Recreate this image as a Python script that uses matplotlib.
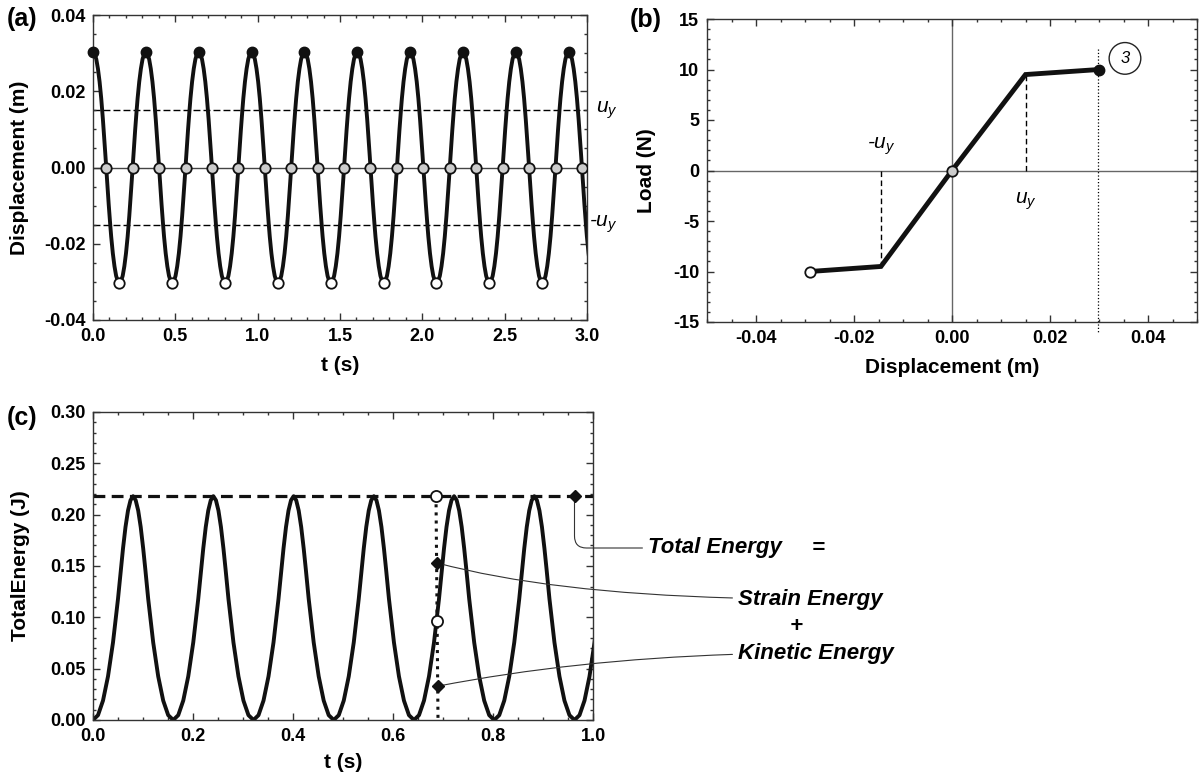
import numpy as np
import matplotlib
matplotlib.use('Agg')
import matplotlib.pyplot as plt
from matplotlib.ticker import MultipleLocator, FormatStrFormatter

# ---- data ----
# (a) displacement: one quarter cycle (peak -> zero crossing)
quarter_t = [0.0, 0.01, 0.02, 0.03, 0.04, 0.05, 0.0558, 0.06, 0.065, 0.07, 0.075, 0.0802]
quarter_disp = [0.0303, 0.0298, 0.0284, 0.0259, 0.0225, 0.0181, 0.0150, 0.0127, 0.0097, 0.0066, 0.0034, 0.0]
peak_t = [0.0, 0.321, 0.642, 0.963, 1.284, 1.605, 1.926, 2.247, 2.568, 2.889]
trough_t = [0.16, 0.481, 0.802, 1.123, 1.444, 1.765, 2.086, 2.407, 2.728]
zero_t = [0.08, 0.241, 0.401, 0.562, 0.722, 0.883, 1.043, 1.204, 1.364, 1.525,
          1.685, 1.846, 2.006, 2.167, 2.327, 2.488, 2.648, 2.809, 2.969]
peak_disp = 0.0303
trough_disp = -0.0303
u_y = 0.015

# (b) load - displacement backbone
load_disp = [-0.029, -0.0145, 0.0, 0.015, 0.030]
load_force = [-10.0, -9.5, 0.0, 9.5, 10.0]
uy_neg = -0.0145
uy_pos = 0.015
fy = 9.5
limit_disp = 0.0297

# (c) kinetic energy: one quarter cycle (zero -> peak)
quarter_ke = [0.0, 0.0047, 0.0189, 0.0425, 0.0755, 0.118, 0.147, 0.167, 0.188, 0.204, 0.214, 0.218]
ke_zero_t = [0.0, 0.1605, 0.321, 0.4815, 0.642, 0.8025, 0.963]
total_energy = 0.218
snap_line_t = [0.686, 0.690]
snap_line_e = [0.218, 0.0]
snap_circle_t = [0.686, 0.688]
snap_circle_e = [0.218, 0.096]
snap_diamond_t = [0.688, 0.690, 0.963]
snap_diamond_e = [0.153, 0.033, 0.218]

W, H = 1204, 777


def BuildCycle(qt, qv, flip):
    # mirror a quarter cycle into a half cycle
    half_t = list(qt) + [2 * qt[-1] - t for t in qt[-2::-1]]
    if flip:
        half_v = list(qv) + [-v for v in qv[-2::-1]]
    else:
        half_v = list(qv) + list(qv[-2::-1])
    return half_t, half_v


def StyleAxes(ax, xmaj, xmin, ymaj, ymin, xfmt, yfmt):
    ax.xaxis.set_major_locator(MultipleLocator(xmaj))
    ax.xaxis.set_minor_locator(MultipleLocator(xmin))
    ax.yaxis.set_major_locator(MultipleLocator(ymaj))
    ax.yaxis.set_minor_locator(MultipleLocator(ymin))
    ax.xaxis.set_major_formatter(FormatStrFormatter(xfmt))
    ax.yaxis.set_major_formatter(FormatStrFormatter(yfmt))
    ax.tick_params(which='both', direction='in', top=True, right=True,
                   color='#333333', width=1, labelsize=13, pad=5.5)
    ax.tick_params(which='major', length=5)
    ax.tick_params(which='minor', length=2.5)
    for s in ax.spines.values():
        s.set_color('#333333')
        s.set_linewidth(1)


def UyLabel(ax, x, y, neg, transform=None, ha='left'):
    # italic u with a small y subscript, not bold
    kw = dict(fontsize=15, fontweight='normal', fontstyle='italic', va='center', ha=ha)
    if transform is not None:
        kw['transform'] = transform
    txt = ('-' if neg else '') + 'u$_{\\mathit{y}}$'
    ax.text(x, y, txt, **kw)


plt.rcParams['font.family'] = ['Liberation Sans', 'DejaVu Sans']
plt.rcParams['font.weight'] = 'bold'
plt.rcParams['axes.labelweight'] = 'bold'
plt.rcParams['axes.unicode_minus'] = False
plt.rcParams['mathtext.fontset'] = 'custom'
plt.rcParams['mathtext.it'] = 'Liberation Sans:style=italic:weight=normal'
plt.rcParams['mathtext.rm'] = 'Liberation Sans:weight=normal'

fig = plt.figure(figsize=(W / 100, H / 100), dpi=100)
ax1 = fig.add_axes([93 / W, 1 - 320 / H, 494 / W, 305 / H])
ax2 = fig.add_axes([707 / W, 1 - 322 / H, 490 / W, 303 / H])
ax3 = fig.add_axes([93 / W, 1 - 720 / H, 500 / W, 308 / H])

# ---- (a) ----
half_t, half_u = BuildCycle(quarter_t, quarter_disp, True)
cycle_t = half_t + [half_t[-1] + t for t in half_t[1:]]
cycle_u = half_u + [-u for u in half_u[1:]]
t_a = np.concatenate([p + np.array(cycle_t) for p in peak_t])
u_a = np.concatenate([np.array(cycle_u) for p in peak_t])

ax1.axhline(0, color='#444444', lw=1, zorder=1)
ax1.axhline(u_y, color='k', lw=1, dashes=(5, 2.2), zorder=1)
ax1.axhline(-u_y, color='k', lw=1, dashes=(5, 2.2), zorder=1)
ax1.plot(t_a, u_a, color='#111111', lw=2.8, zorder=2)
ax1.plot(peak_t, [peak_disp] * len(peak_t), 'o', ms=7.5, mfc='#111111', mec='#111111', clip_on=False, zorder=3)
ax1.plot(trough_t, [trough_disp] * len(trough_t), 'o', ms=7.5, mfc='white', mec='#111111', mew=1.3, zorder=3)
ax1.plot(zero_t, [0] * len(zero_t), 'o', ms=7.5, mfc='#cccccc', mec='#111111', mew=1.3, zorder=3)
ax1.set_xlim(0, 3.0)
ax1.set_ylim(-0.04, 0.04)
StyleAxes(ax1, 0.5, 0.1, 0.02, 0.005, '%.1f', '%.2f')
ax1.set_xlabel('t (s)', fontsize=15, labelpad=8)
ax1.set_ylabel('Displacement (m)', fontsize=15, labelpad=11)
UyLabel(ax1, 1.018, u_y, False, transform=ax1.get_yaxis_transform())
UyLabel(ax1, 1.004, -u_y, True, transform=ax1.get_yaxis_transform())

# ---- (b) ----
ax2.axhline(0, color='#666666', lw=1, zorder=1)
ax2.axvline(0, color='#666666', lw=1, zorder=1)
ax2.plot([uy_neg, uy_neg], [0, -fy], color='k', lw=1, dashes=(4, 2.5), zorder=1)
ax2.plot([uy_pos, uy_pos], [0, fy], color='k', lw=1, dashes=(4, 2.5), zorder=1)
ax2.plot([limit_disp, limit_disp], [12.0, -16.0], color='k', lw=0.9, ls=':', clip_on=False, zorder=1)
ax2.plot(load_disp, load_force, color='#111111', lw=3.5, zorder=2, solid_joinstyle='miter')
ax2.plot(load_disp[0], load_force[0], 'o', ms=7.5, mfc='white', mec='#111111', mew=1.3, zorder=3)
ax2.plot(load_disp[2], load_force[2], 'o', ms=7.5, mfc='#cccccc', mec='#111111', mew=1.3, zorder=3)
ax2.plot(load_disp[-1], load_force[-1], 'o', ms=7.5, mfc='#111111', mec='#111111', zorder=3)
ax2.set_xlim(-0.05, 0.05)
ax2.set_ylim(-15, 15)
StyleAxes(ax2, 0.02, 0.005, 5, 1, '%.2f', '%d')
ax2.set_xlabel('Displacement (m)', fontsize=15, labelpad=8)
ax2.set_ylabel('Load (N)', fontsize=15, labelpad=12)
UyLabel(ax2, uy_neg, 2.4, True, ha='center')
UyLabel(ax2, uy_pos, -3.0, False, ha='center')
ax2.text(0.0353, 11.1, '3', fontsize=12, fontweight='normal', fontstyle='italic', ha='center', va='center',
         bbox=dict(boxstyle='circle,pad=0.5', fc='white', ec='#222222', lw=1))

# ---- (c) ----
half_ct, half_ke = BuildCycle(quarter_t, quarter_ke, False)
t_c = np.concatenate([z + np.array(half_ct) for z in ke_zero_t])
e_c = np.concatenate([np.array(half_ke) for z in ke_zero_t])

ax3.axhline(total_energy, color='#111111', lw=2.3, dashes=(3.7, 2.0), zorder=2)
ax3.plot(t_c, e_c, color='#111111', lw=2.8, zorder=2)
ax3.plot(snap_line_t, snap_line_e, color='#111111', lw=2.2, ls=':', zorder=3)
ax3.plot(snap_circle_t, snap_circle_e, 'o', ms=8, mfc='white', mec='#111111', mew=1.3, zorder=4)
ax3.plot(snap_diamond_t, snap_diamond_e, 'D', ms=6, mfc='#111111', mec='#111111', zorder=4)
ax3.set_xlim(0, 1.0)
ax3.set_ylim(0, 0.30)
StyleAxes(ax3, 0.2, 0.05, 0.05, 0.01, '%.1f', '%.2f')
ax3.set_xlabel('t (s)', fontsize=15, labelpad=6)
ax3.set_ylabel('TotalEnergy (J)', fontsize=15, labelpad=14)

line_props = dict(arrowstyle='-', color='#333333', lw=0.8, shrinkA=2, shrinkB=0)
ax3.annotate('Total Energy', xy=(snap_diamond_t[2], snap_diamond_e[2]),
             xytext=(648 / W, 1 - 548 / H), textcoords='figure fraction',
             fontsize=16, fontstyle='italic', ha='left', va='center',
             arrowprops=dict(line_props, connectionstyle='angle,angleA=0,angleB=90,rad=12'))
ax3.annotate('Strain Energy', xy=(snap_diamond_t[0], snap_diamond_e[0]),
             xytext=(738 / W, 1 - 599 / H), textcoords='figure fraction',
             fontsize=16, fontstyle='italic', ha='left', va='center',
             arrowprops=dict(line_props, connectionstyle='angle3,angleA=0,angleB=-15'))
ax3.annotate('Kinetic Energy', xy=(snap_diamond_t[1], snap_diamond_e[1]),
             xytext=(738 / W, 1 - 653 / H), textcoords='figure fraction',
             fontsize=16, fontstyle='italic', ha='left', va='center',
             arrowprops=dict(line_props, connectionstyle='angle3,angleA=0,angleB=11'))
fig.text(818 / W, 1 - 548 / H, '=', fontsize=16, fontstyle='italic', ha='center', va='center')
fig.text(796 / W, 1 - 627 / H, '+', fontsize=16, fontstyle='italic', ha='center', va='center')

# panel labels
fig.text(7 / W, 1 - 19 / H, '(a)', fontsize=18, ha='left', va='center')
fig.text(662 / W, 1 - 20 / H, '(b)', fontsize=18, ha='right', va='center')
fig.text(7 / W, 1 - 418 / H, '(c)', fontsize=18, ha='left', va='center')

fig.savefig('out.png', dpi=100)
